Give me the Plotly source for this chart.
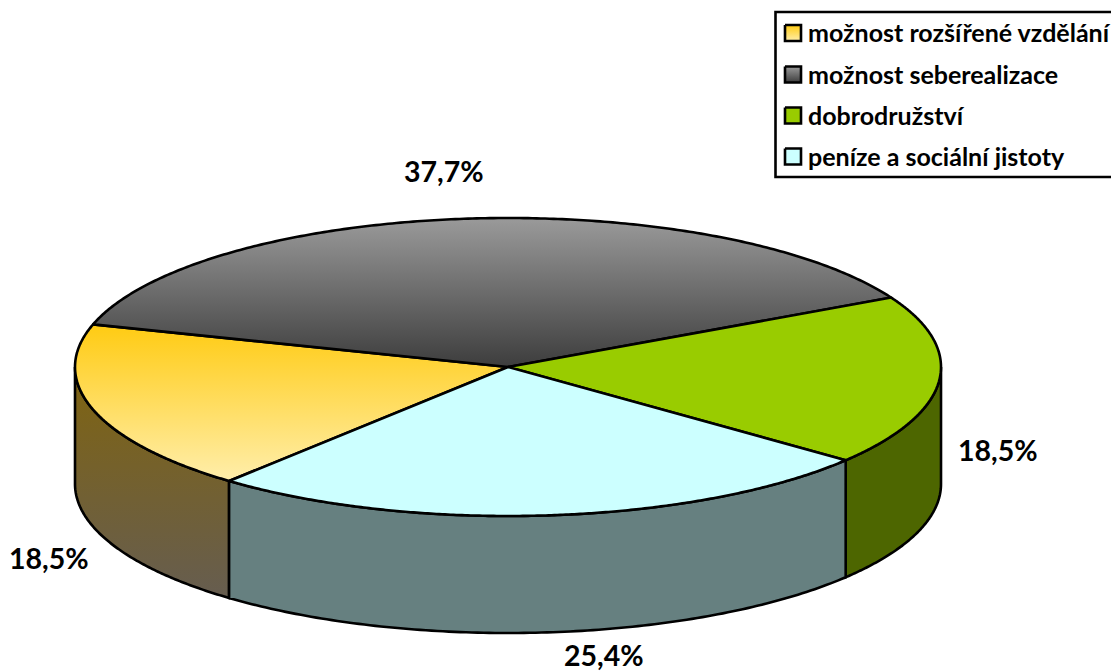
import numpy as np
import plotly.graph_objects as go

# Survey shares, in legend order
categories = ["možnost rozšířené vzdělání", "možnost seberealizace", "dobrodružství", "peníze a sociální jistoty"]
values = [18.5, 37.7, 18.5, 25.4]
value_labels = ["18,5%", "37,7%", "18,5%", "25,4%"]

W, H = 1111, 672
CX, CY, RX, RY, DEPTH = 508, 367, 433, 149, 117
FIRST_ANGLE = -130.1  # where the first slice begins, degrees anticlockwise from east

# Colour pairs run from the top edge of a shape to its bottom edge
top_fill = [("#ffcb12", "#ffeeab"), ("#9a9a9a", "#3d3d3d"), ("#99cc00", "#99cc00"), ("#ccffff", "#ccffff")]
side_fill = [("#80640f", "#665d50"), None, ("#4d6600", "#4d6600"), ("#668080", "#668080")]
label_pos = [(49, 558), (444, 171), (998, 450), (604, 655)]
FONT = "Lato, Carlito, Calibri, sans-serif"


def ellipse(angles_deg, dy=0.0):
    t = np.radians(angles_deg)
    return CX + RX * np.cos(t), CY - RY * np.sin(t) + dy


def gradient(pair):
    # The y axis is flipped, so the scale's low end sits at the bottom of the fill
    return dict(type="vertical", colorscale=[[0, pair[1]], [1, pair[0]]])


def polygon(x, y, pair):
    return go.Scatter(
        x=x, y=y, mode="lines", fill="toself",
        line=dict(color="black", width=2.6, simplify=False),
        fillgradient=gradient(pair), hoverinfo="skip", showlegend=False,
    )


total = sum(values)
spans = [v / total * 360 for v in values]
starts = [FIRST_ANGLE - sum(spans[:i]) for i in range(len(values))]

fig = go.Figure()

# Rim of the disc: only the front half (angles below the horizontal) is visible
for start, span, pair in zip(starts, spans, side_fill):
    if pair is None:
        continue
    a0, a1 = start, start - span
    for k in np.arange(-3, 3) * 360.0:
        lo, hi = max(a1 + k, -180), min(a0 + k, 0)
        if lo < hi:
            arc = np.linspace(hi, lo, 120)
            tx, ty = ellipse(arc)
            bx, by = ellipse(arc[::-1], DEPTH)
            fig.add_trace(polygon(np.r_[tx, bx, tx[0]], np.r_[ty, by, ty[0]], pair))

# Top faces of the slices
for start, span, pair in zip(starts, spans, top_fill):
    ax, ay = ellipse(np.linspace(start, start - span, 240))
    fig.add_trace(polygon(np.r_[CX, ax, CX], np.r_[CY, ay, CY], pair))

# Legend swatches
rows_y = [33, 74.5, 115.5, 156.5]
for y0, pair in zip(rows_y, top_fill):
    fig.add_trace(polygon(
        [785, 801, 801, 785, 785], [y0 - 8, y0 - 8, y0 + 8, y0 + 8, y0 - 8], pair
    ))

annotations = []
for (x, y), text in zip(label_pos, value_labels):
    annotations.append(dict(x=x, y=y, text=f"<b>{text}</b>", showarrow=False,
                            xanchor="center", yanchor="middle",
                            font=dict(family=FONT, size=28.5, color="black")))
for y0, name in zip(rows_y, categories):
    annotations.append(dict(x=806, y=y0 - 1, text=f"<b>{name}</b>", showarrow=False,
                            xanchor="left", yanchor="middle",
                            font=dict(family=FONT, size=25, color="black")))

fig.update_layout(
    width=W, height=H, margin=dict(l=0, r=0, t=0, b=0),
    paper_bgcolor="white", plot_bgcolor="white", showlegend=False,
    xaxis=dict(range=[0, W], visible=False, fixedrange=True),
    yaxis=dict(range=[H, 0], visible=False, fixedrange=True),
    annotations=annotations,
    shapes=[dict(type="rect", x0=775.5, x1=1113, y0=12, y1=177,
                 line=dict(color="black", width=2.6), fillcolor="rgba(0,0,0,0)", layer="below")],
)

fig.write_html("out.html", config={"displayModeBar": False})
